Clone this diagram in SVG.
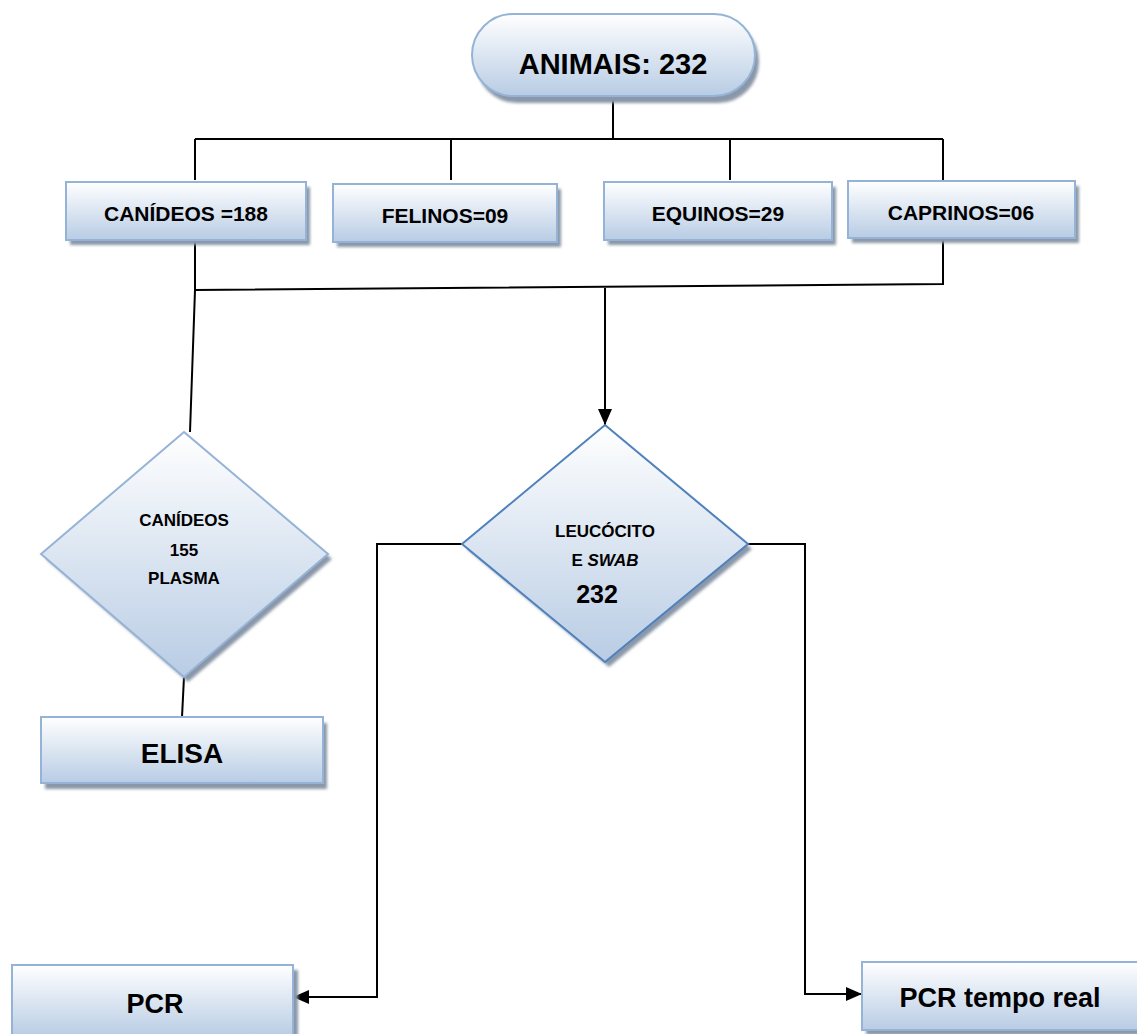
<svg xmlns="http://www.w3.org/2000/svg" width="1137" height="1034" viewBox="0 0 1137 1034">
<style>
.box{fill:url(#g);stroke:#95b3d7;stroke-width:2}
.box2{fill:url(#g);stroke:#4f81bd;stroke-width:2}
.sh{fill:#8a97a8}
.t{font-family:"Liberation Sans",Arial,sans-serif;font-weight:bold;fill:#000;text-anchor:middle}
.ln{fill:none;stroke:#000;stroke-width:2}
</style>
<defs>
<linearGradient id="g" x1="0" y1="0" x2="0" y2="1">
<stop offset="0" stop-color="#ffffff"/>
<stop offset="1" stop-color="#b8cce4"/>
</linearGradient>
<filter id="blur" x="-10%" y="-10%" width="120%" height="130%"><feGaussianBlur stdDeviation="1.5"/></filter>
<marker id="arr" viewBox="0 0 10 10" refX="10" refY="5" markerWidth="8" markerHeight="7" orient="auto" markerUnits="strokeWidth" preserveAspectRatio="none">
<path d="M0,0 L10,5 L0,10 z" fill="#000"/>
</marker>
</defs>
<g id="connectors">
<path class="ln" d="M613,97 V139 M195,139 H943 M195,139 V180 M451,139 V180 M730,139 V180 M943,139 V180"/>
<path class="ln" d="M943,240 V284 L195,290 M195,242 V290 L190,432"/>
<path class="ln" d="M605,288 V425" marker-end="url(#arr)"/>
<path class="ln" d="M184,677 L182,717"/>
<path class="ln" d="M462,544 H377 V997 H293" marker-end="url(#arr)"/>
<path class="ln" d="M748,544 H805 V994 H862" marker-end="url(#arr)"/>
</g>
<g id="animais">
<rect class="sh" x="476" y="20" width="283" height="83" rx="41" filter="url(#blur)"/>
<rect class="box" x="472" y="14" width="283" height="82" rx="41"/>
<text class="t" x="613" y="74" font-size="29">ANIMAIS: 232</text>
</g>
<g id="canideos">
<rect class="sh" x="70" y="187" width="240" height="58" filter="url(#blur)"/>
<rect class="box" x="66" y="182" width="240" height="58"/>
<text class="t" x="186" y="221" font-size="21">CANÍDEOS =188</text>
</g>
<g id="felinos">
<rect class="sh" x="337" y="189" width="224" height="58" filter="url(#blur)"/>
<rect class="box" x="333" y="184" width="224" height="58"/>
<text class="t" x="445" y="223" font-size="21">FELINOS=09</text>
</g>
<g id="equinos">
<rect class="sh" x="608" y="187" width="228" height="58" filter="url(#blur)"/>
<rect class="box" x="604" y="182" width="228" height="58"/>
<text class="t" x="718" y="221" font-size="21">EQUINOS=29</text>
</g>
<g id="caprinos">
<rect class="sh" x="852" y="186" width="227" height="57" filter="url(#blur)"/>
<rect class="box" x="848" y="181" width="227" height="57"/>
<text class="t" x="961" y="220" font-size="21">CAPRINOS=06</text>
</g>
<g id="diamond-canideos">
<polygon class="sh" points="188,437 332,559 188,682 46,559" filter="url(#blur)"/>
<polygon class="box" points="184,432 328,554 184,677 41,554"/>
<text class="t" x="184" y="526" font-size="17">CANÍDEOS</text>
<text class="t" x="184" y="556" font-size="17">155</text>
<text class="t" x="184" y="584" font-size="17">PLASMA</text>
</g>
<g id="elisa">
<rect class="sh" x="45" y="723" width="282" height="66" filter="url(#blur)"/>
<rect class="box" x="41" y="717" width="282" height="66"/>
<text class="t" x="182" y="763" font-size="28">ELISA</text>
</g>
<g id="diamond-leucocito">
<polygon class="sh" points="609,430 752,549 609,667 467,549" filter="url(#blur)"/>
<polygon class="box2" points="605,425 748,544 605,662 462,544"/>
<text class="t" x="605" y="537" font-size="17">LEUCÓCITO</text>
<text class="t" x="605" y="566" font-size="17">E <tspan font-style="italic">SWAB</tspan></text>
<text class="t" x="597" y="603" font-size="25">232</text>
</g>
<g id="pcr">
<rect class="sh" x="16" y="970" width="282" height="70" filter="url(#blur)"/>
<rect class="box" x="12" y="965" width="281" height="72"/>
<text class="t" x="155" y="1013" font-size="27">PCR</text>
</g>
<g id="pcr-tempo-real">
<rect class="sh" x="866" y="967" width="280" height="68" filter="url(#blur)"/>
<rect class="box" x="862" y="962" width="280" height="68"/>
<text class="t" x="1000" y="1007" font-size="27">PCR tempo real</text>
</g>
</svg>
